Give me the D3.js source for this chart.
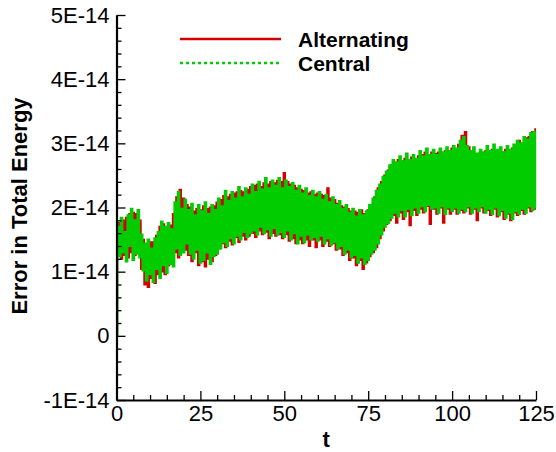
<!DOCTYPE html>
<html>
<head>
<meta charset="utf-8">
<script src="https://cdn.jsdelivr.net/npm/d3@7"></script>
<style>
  html, body { margin: 0; padding: 0; background: #fff; }
  svg { display: block; font-family: "Liberation Sans", Arial, sans-serif; }
</style>
</head>
<body>
<svg id="chart" width="556" height="452"></svg>
<script>
// ---- data (values in units of 1E-14), sampled every 0.5 time units from t = 0 ----
const tStart = 0;
const tStep = 0.5;

const central = [
  0,
  1.70, 1.24, 1.84, 1.30, 1.62, 1.16, 1.88, 1.40, 1.98, 1.18,
  1.80, 1.28, 1.96, 1.22, 1.58, 1.02, 1.44, 0.86, 1.50, 0.96,
  1.36, 0.84, 1.52, 1.04, 1.62, 0.90, 1.78, 1.10, 1.70, 0.98,
  1.76, 1.12, 1.66, 1.08, 2.08, 1.36, 2.24, 1.26, 1.98, 1.30,
  2.12, 1.44, 1.96, 1.28, 2.06, 1.20, 1.88, 1.34, 2.04, 1.14,
  1.94, 1.18, 2.08, 1.30, 1.90, 1.12, 2.04, 1.24, 1.96, 1.28,
  2.14, 1.36, 2.02, 1.46, 2.26, 1.40, 2.10, 1.52, 2.24, 1.44,
  2.14, 1.56, 2.32, 1.50, 2.16, 1.62, 2.30, 1.54, 2.20, 1.60,
  2.36, 1.64, 2.24, 1.58, 2.40, 1.70, 2.28, 1.60, 2.46, 1.66,
  2.30, 1.56, 2.42, 1.68, 2.34, 1.58, 2.46, 1.62, 2.30, 1.54,
  2.42, 1.64, 2.32, 1.50, 2.38, 1.60, 2.26, 1.44, 2.34, 1.56,
  2.22, 1.46, 2.30, 1.58, 2.18, 1.50, 2.26, 1.54, 2.16, 1.48,
  2.24, 1.56, 2.12, 1.44, 2.20, 1.52, 2.08, 1.42, 2.16, 1.46,
  2.04, 1.36, 2.10, 1.40, 1.98, 1.28, 2.04, 1.34, 1.92, 1.22,
  1.98, 1.26, 1.86, 1.14, 1.96, 1.22, 1.88, 1.12, 1.94, 1.18,
  2.04, 1.28, 2.14, 1.34, 2.26, 1.44, 2.36, 1.58, 2.48, 1.70,
  2.56, 1.76, 2.66, 1.84, 2.74, 1.92, 2.70, 1.86, 2.80, 1.96,
  2.72, 1.86, 2.84, 1.98, 2.74, 1.88, 2.82, 2.00, 2.76, 1.92,
  2.88, 2.02, 2.80, 1.94, 2.92, 2.04, 2.82, 1.98, 2.90, 2.00,
  2.82, 1.92, 2.92, 2.02, 2.86, 1.90, 2.94, 2.00, 2.88, 1.94,
  2.96, 2.00, 2.92, 1.92, 3.04, 1.98, 3.10, 1.94, 2.96, 2.02,
  2.88, 1.92, 2.94, 2.00, 2.84, 1.94, 2.90, 2.02, 2.86, 1.92,
  2.96, 1.98, 2.88, 1.90, 2.98, 2.00, 2.90, 1.88, 2.94, 1.96,
  2.86, 1.84, 2.96, 1.92, 2.90, 1.82, 2.98, 1.94, 3.04, 1.90,
  3.00, 1.98, 3.10, 1.92, 3.06, 2.02, 3.16, 1.96, 3.18, 2.00
];

const alternating = [
  0,
  1.30, 1.76, 1.20, 1.80, 1.26, 1.84, 1.22, 1.90, 1.30, 1.92,
  1.26, 1.90, 1.30, 1.80, 1.04, 1.50, 0.80, 1.40, 0.76, 1.46,
  0.90, 1.46, 0.82, 1.56, 0.96, 1.70, 1.00, 1.74, 0.96, 1.68,
  1.10, 1.72, 1.14, 1.90, 1.30, 2.16, 1.22, 2.28, 1.32, 2.14,
  1.34, 2.04, 1.26, 2.00, 1.16, 1.94, 1.30, 1.98, 1.10, 1.96,
  1.16, 2.02, 1.08, 1.98, 1.20, 2.00, 1.16, 2.02, 1.26, 2.08,
  1.36, 2.12, 1.44, 2.18, 1.38, 2.16, 1.48, 2.20, 1.42, 2.22,
  1.54, 2.24, 1.46, 2.26, 1.56, 2.24, 1.50, 2.28, 1.56, 2.32,
  1.60, 2.34, 1.54, 2.36, 1.64, 2.32, 1.58, 2.38, 1.62, 2.36,
  1.52, 2.40, 1.60, 2.38, 1.56, 2.42, 1.58, 2.40, 1.52, 2.54,
  1.58, 2.40, 1.48, 2.36, 1.52, 2.34, 1.44, 2.30, 1.50, 2.28,
  1.44, 2.26, 1.50, 2.22, 1.40, 2.24, 1.50, 2.20, 1.38, 2.22,
  1.50, 2.20, 1.40, 2.18, 1.48, 2.30, 1.40, 2.14, 1.44, 2.12,
  1.34, 2.06, 1.36, 2.02, 1.26, 2.00, 1.30, 1.98, 1.18, 1.94,
  1.22, 1.94, 1.10, 1.92, 1.18, 1.96, 1.04, 1.90, 1.14, 1.96,
  1.24, 2.02, 1.30, 2.16, 1.38, 2.30, 1.52, 2.40, 1.64, 2.50,
  1.74, 2.58, 1.80, 2.66, 1.88, 2.70, 1.76, 2.74, 1.92, 2.72,
  1.82, 2.76, 1.94, 2.72, 1.72, 2.78, 1.96, 2.74, 1.88, 2.80,
  1.98, 2.82, 1.92, 2.86, 2.02, 2.82, 1.74, 2.86, 1.98, 2.84,
  1.90, 2.86, 2.00, 2.84, 1.76, 2.88, 1.98, 2.86, 1.90, 2.92,
  1.98, 2.90, 1.90, 2.98, 1.96, 3.12, 1.92, 3.18, 2.00, 2.94,
  1.90, 2.86, 1.98, 2.82, 1.80, 2.84, 2.00, 2.80, 1.92, 2.88,
  1.96, 2.86, 1.88, 2.90, 1.98, 2.84, 1.86, 2.88, 1.94, 2.86,
  1.82, 2.90, 1.90, 2.86, 1.80, 2.92, 1.92, 2.96, 1.88, 3.04,
  1.96, 3.00, 1.90, 3.08, 2.00, 3.10, 1.94, 3.18, 1.98, 3.22
];

const xTicks = [0, 25, 50, 75, 100, 125];
const xMinorTicks = [5, 10, 15, 20, 30, 35, 40, 45, 55, 60, 65, 70, 80, 85, 90, 95, 105, 110, 115, 120];
const yTicks = [-1, 0, 1, 2, 3, 4, 5];
const yTickLabels = ["-1E-14", "0", "1E-14", "2E-14", "3E-14", "4E-14", "5E-14"];
const yMinorTicks = [-0.8, -0.6, -0.4, -0.2, 0.2, 0.4, 0.6, 0.8, 1.2, 1.4, 1.6, 1.8, 2.2, 2.4, 2.6, 2.8,
                     3.2, 3.4, 3.6, 3.8, 4.2, 4.4, 4.6, 4.8];
const seriesNames = ["Alternating", "Central"];
const seriesColors = ["#d40000", "#00cc00"];

// ---- layout ----
const svg = d3.select("#chart");
const x = d3.scaleLinear().domain([0, 125]).range([116.5, 536]);
const y = d3.scaleLinear().domain([-1, 5]).range([400, 15]);
const FONT = 22;

// ---- series ----
const line = d3.line()
  .x((d, i) => x(tStart + i * tStep))
  .y(d => y(d))
  .curve(d3.curveStep);

const plot = svg.append("g");
plot.append("path")
  .datum(alternating)
  .attr("d", line)
  .attr("fill", "none")
  .attr("stroke", seriesColors[0])
  .attr("stroke-width", 1.8);
plot.append("path")
  .datum(central)
  .attr("d", line)
  .attr("fill", "none")
  .attr("stroke", seriesColors[1])
  .attr("stroke-width", 2.0);

// ---- axes ----
const yAxis = d3.axisLeft(y)
  .tickValues(yTicks)
  .tickFormat((d, i) => yTickLabels[i])
  .tickSizeInner(-9).tickSizeOuter(0).tickPadding(7);
const gy = svg.append("g").attr("transform", `translate(${x(0)},0)`).call(yAxis);
gy.append("g").call(d3.axisLeft(y).tickValues(yMinorTicks).tickFormat("").tickSizeInner(-5).tickSizeOuter(0))
  .select(".domain").remove();

const xAxis = d3.axisBottom(x)
  .tickValues(xTicks)
  .tickSizeInner(-9).tickSizeOuter(0).tickPadding(5);
const gx = svg.append("g").attr("transform", `translate(0,${y(-1)})`).call(xAxis);
gx.append("g").call(d3.axisBottom(x).tickValues(xMinorTicks).tickFormat("").tickSizeInner(-5).tickSizeOuter(0))
  .select(".domain").remove();

svg.selectAll(".domain").attr("stroke", "#000").attr("stroke-width", 2.2);
svg.selectAll(".tick line").attr("stroke", "#000").attr("stroke-width", 1.3);
svg.selectAll(".tick text")
  .attr("font-size", FONT)
  .attr("font-family", "'Liberation Sans', Arial, sans-serif")
  .attr("fill", "#000");

// ---- axis titles ----
svg.append("text")
  .attr("x", x(62.5)).attr("y", 447)
  .attr("text-anchor", "middle")
  .attr("font-size", FONT).attr("font-weight", "bold")
  .text("t");
svg.append("text")
  .attr("transform", "translate(27,206) rotate(-90)")
  .attr("text-anchor", "middle")
  .attr("font-size", FONT).attr("font-weight", "bold")
  .text("Error in Total Energy");

// ---- legend ----
const legend = svg.append("g");
const legY = [39, 63];
seriesNames.forEach((name, i) => {
  legend.append("line")
    .attr("x1", 180).attr("x2", 281)
    .attr("y1", legY[i]).attr("y2", legY[i])
    .attr("stroke", seriesColors[i])
    .attr("stroke-width", 2.5)
    .attr("stroke-dasharray", i === 0 ? null : "3,3");
  legend.append("text")
    .attr("x", 298).attr("y", legY[i] + 7.5)
    .attr("font-size", 21).attr("font-weight", "bold")
    .text(name);
});
</script>
</body>
</html>
